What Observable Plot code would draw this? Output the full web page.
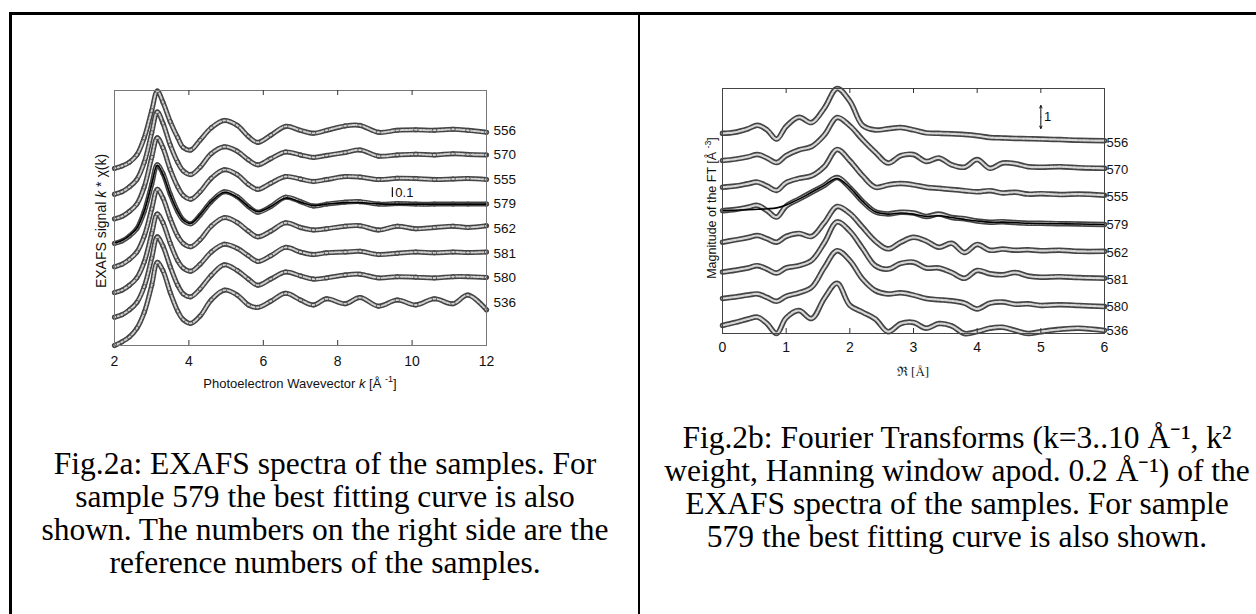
<!DOCTYPE html>
<html><head><meta charset="utf-8">
<script src="https://cdn.jsdelivr.net/npm/d3@7"></script>
<script src="https://cdn.jsdelivr.net/npm/@observablehq/plot@0.6"></script>
<style>
body{margin:0;background:#fff;}
#page{position:relative;width:1256px;height:614px;overflow:hidden;background:#fff;}
.bar{position:absolute;background:#000;}
.pl{position:absolute;top:0;}
.lab{position:absolute;white-space:nowrap;font-family:"Liberation Sans",Arial,sans-serif;color:#111;transform:translate(-50%,-50%);}
.rot{transform:translate(-50%,-50%) rotate(-90deg);}
.lab sup{font-size:0.7em;line-height:0;vertical-align:0.6em;}
.cap{position:absolute;font-family:"Liberation Serif","Times New Roman",Times,serif;font-size:31.5px;line-height:33px;text-align:center;white-space:nowrap;color:#000;transform:translateX(-50%);}
</style>
</head><body>
<div id="page">
  <div class="bar" style="left:9px;top:12px;width:1247px;height:3px;"></div>
  <div class="bar" style="left:9px;top:12px;width:2.5px;height:602px;"></div>
  <div class="bar" style="left:637.5px;top:12px;width:2.5px;height:602px;"></div>
  <div id="pa" class="pl" style="left:0;"></div>
  <div id="pb" class="pl" style="left:640px;"></div>
  <div class="lab rot" style="left:101px;top:221px;font-size:14px;">EXAFS signal <i>k</i> * χ(k)</div>
  <div class="lab" style="left:300px;top:383px;font-size:13px;">Photoelectron Wavevector <i>k</i> [Å <sup>-1</sup>]</div>
  <div class="lab rot" style="left:712px;top:208px;font-size:12.5px;">Magnitude of the FT [Å <sup>-3</sup>]</div>
  <div class="lab" style="left:913px;top:371px;font-size:13px;font-family:'Liberation Serif',serif;">ℜ [Å]</div>
  <div class="cap" style="left:325px;top:447px;">Fig.2a: EXAFS spectra of the samples. For<br>sample 579 the best fitting curve is also<br>shown. The numbers on the right side are the<br>reference numbers of the samples.</div>
  <div class="cap" style="left:957px;top:421px;">Fig.2b: Fourier Transforms (k=3..10 Å⁻¹, k²<br>weight, Hanning window apod. 0.2 Å⁻¹) of the<br>EXAFS spectra of the samples. For sample<br>579 the best fitting curve is also shown.</div>
</div>
<script>
// ---------- Fig.2a : EXAFS k*chi(k) ----------
const sampleNames = ["556","570","555","579","562","581","580","536"];
const exafsOffsets = [7, 6, 5, 4, 3, 2, 1, 0];
const kValues = [2.0,2.2,2.4,2.6,2.8,3.0,3.15,3.3,3.5,3.7,3.85,4.05,4.3,4.6,4.95,5.3,5.6,5.85,6.2,6.6,7.0,7.35,7.7,8.2,8.6,9.1,9.6,10.1,10.6,11.1,11.5,12.0];
const exafs556 = [-1.55,-1.45,-1.3,-1.0,-0.3,0.8,1.6,1.15,0.35,-0.3,-0.7,-0.8,-0.4,0.1,0.4,0.2,-0.25,-0.49,-0.2,0.16,0.0,-0.12,0.0,0.18,0.2,-0.08,0.0,0.02,0.0,0.04,0.0,-0.08];
const exafs570 = [-1.6,-1.5,-1.3,-1.0,-0.3,0.9,1.75,1.3,0.4,-0.3,-0.65,-0.8,-0.5,0.05,0.33,0.15,-0.2,-0.4,-0.15,0.12,0.0,-0.1,-0.02,0.1,0.2,-0.05,0.0,0.03,0.0,0.05,0.02,0.0];
const exafs555 = [-1.6,-1.5,-1.3,-1.0,-0.3,0.9,1.7,1.3,0.4,-0.3,-0.65,-0.8,-0.5,0.05,0.4,0.2,-0.2,-0.4,-0.15,0.12,0.02,-0.08,0.0,0.12,0.1,0.0,0.05,0.04,0.0,0.02,0.04,0.0];
const exafs579 = [-1.6,-1.5,-1.3,-1.0,-0.3,0.8,1.6,1.25,0.4,-0.3,-0.65,-0.8,-0.45,0.1,0.5,0.3,-0.1,-0.33,-0.1,0.28,0.1,-0.08,0.0,0.08,0.1,0.0,0.02,0.0,0.0,0.0,0.0,0.0];
const exafs579fit = [-1.58,-1.48,-1.28,-0.98,-0.28,0.82,1.58,1.22,0.38,-0.3,-0.64,-0.78,-0.44,0.1,0.48,0.28,-0.1,-0.31,-0.1,0.25,0.08,-0.06,0.0,0.06,0.06,0.01,0.0,0.0,0.0,0.0,0.0,0.0];
const exafs562 = [-1.55,-1.45,-1.25,-0.95,-0.3,0.8,1.6,1.25,0.4,-0.3,-0.6,-0.73,-0.45,0.1,0.45,0.25,-0.1,-0.33,-0.1,0.24,0.05,-0.05,0.0,0.1,0.12,-0.05,0.1,0.0,0.05,0.1,0.05,0.12];
const exafs581 = [-1.6,-1.5,-1.3,-1.0,-0.35,0.8,1.6,1.25,0.4,-0.3,-0.6,-0.73,-0.45,0.05,0.37,0.2,-0.1,-0.33,-0.1,0.24,0.05,-0.05,0.02,0.05,0.08,-0.05,0.0,0.05,0.02,0.05,0.03,0.05];
const exafs580 = [-1.6,-1.5,-1.3,-1.0,-0.35,0.8,1.67,1.3,0.45,-0.3,-0.65,-0.77,-0.45,0.1,0.53,0.3,-0.05,-0.3,-0.05,0.24,0.08,-0.05,0.0,0.12,0.15,0.0,0.05,0.03,0.0,0.05,0.05,0.02];
const exafs536 = [-1.75,-1.6,-1.4,-1.05,-0.4,0.7,1.63,1.3,0.4,-0.35,-0.7,-0.85,-0.55,0.1,0.5,0.3,-0.1,-0.2,0.05,0.37,0.1,-0.1,0.15,-0.05,0.2,-0.15,0.1,-0.1,0.15,-0.05,0.3,-0.3];
const exafsSeries = [exafs556, exafs570, exafs555, exafs579, exafs562, exafs581, exafs580, exafs536];
const kTickLabels = [2, 4, 6, 8, 10, 12];
const kInnerTicks = [4, 6, 8, 10];

// ---------- Fig.2b : Fourier transforms ----------
const ftOffsets = [8.3, 7.13, 5.96, 4.74, 3.52, 2.35, 1.17, 0.13];
const rValues = [0,0.2,0.4,0.55,0.7,0.85,1.0,1.2,1.4,1.6,1.8,2.0,2.2,2.4,2.6,2.8,3.0,3.2,3.4,3.6,3.8,4.0,4.2,4.4,4.6,4.8,5.0,5.3,5.6,6.0];
const ft556 = [0.4,0.45,0.6,0.75,0.55,0.15,0.7,1.1,0.87,1.5,2.35,1.8,0.75,0.55,0.6,0.65,0.55,0.42,0.4,0.38,0.35,0.3,0.22,0.2,0.18,0.17,0.15,0.13,0.1,0.08];
const ft570 = [0.39,0.45,0.55,0.65,0.5,0.3,0.6,0.85,1.0,1.5,2.26,1.9,1.3,0.75,0.28,0.6,0.65,0.35,0.5,0.2,0.1,0.43,0.05,0.28,0.25,0.12,0.1,0.12,0.08,0.05];
const ft555 = [0.4,0.45,0.55,0.62,0.45,0.26,0.6,0.78,0.9,1.3,2.04,1.55,0.9,0.4,0.5,0.56,0.5,0.4,0.35,0.3,0.25,0.2,0.25,0.15,0.18,0.1,0.12,0.08,0.1,0.05];
const ft579 = [0.6,0.65,0.75,0.83,0.6,0.32,0.8,1.1,1.4,1.7,2.04,1.6,1.0,0.55,0.46,0.53,0.5,0.35,0.45,0.3,0.25,0.15,0.1,0.12,0.08,0.05,0.05,0.03,0.02,0.0];
const ft579fit = [0.6,0.62,0.64,0.66,0.68,0.72,0.85,1.1,1.4,1.7,2.0,1.6,1.0,0.55,0.45,0.5,0.45,0.35,0.38,0.3,0.22,0.15,0.1,0.1,0.08,0.05,0.04,0.03,0.02,0.0];
const ft562 = [0.45,0.55,0.65,0.74,0.6,0.45,0.7,0.83,0.7,1.3,2.0,1.7,1.1,0.5,0.16,0.45,0.66,0.5,0.23,0.4,0.0,0.35,0.1,0.15,0.1,0.12,0.08,0.1,0.05,0.05];
const ft581 = [0.32,0.4,0.5,0.6,0.45,0.28,0.5,0.6,0.83,1.6,2.5,2.1,1.35,0.6,0.45,0.7,0.75,0.5,0.5,0.3,0.05,0.39,0.25,0.2,0.3,0.15,0.1,0.12,0.08,0.05];
const ft580 = [0.35,0.42,0.5,0.55,0.4,0.23,0.45,0.6,0.84,1.7,2.43,2.0,1.2,0.7,0.55,0.6,0.5,0.35,0.3,0.25,0.15,-0.1,0.15,0.2,0.1,0.12,0.05,0.08,0.05,0.0];
const ft536 = [0.22,0.35,0.5,0.58,0.3,-0.13,0.55,0.87,0.52,1.4,2.05,1.1,0.8,0.5,-0.05,0.3,0.35,0.1,0.3,0.2,-0.13,-0.05,0.1,0.14,0.0,-0.13,-0.05,0.05,0.1,0.0];
const ftSeries = [ft556, ft570, ft555, ft579, ft562, ft581, ft580, ft536];
const rTickLabels = [0, 1, 2, 3, 4, 5, 6];
const rInnerTicks = [1, 2, 3, 4, 5];
const scaleBarUnit = 1;

// ---------- build tables ----------
function buildRows(xs, seriesList, offsets, xKey) {
  const rows = [];
  seriesList.forEach((vals, i) => vals.forEach((v, j) => rows.push({[xKey]: xs[j], y: offsets[i] + v, s: sampleNames[i]})));
  return rows;
}
const exafsRows = buildRows(kValues, exafsSeries, exafsOffsets, "k");
const exafsFitRows = exafs579fit.map((v, j) => ({k: kValues[j], y: exafsOffsets[3] + v}));
const ftRows = buildRows(rValues, ftSeries, ftOffsets, "r");
const ftFitRows = ft579fit.map((v, j) => ({r: rValues[j], y: ftOffsets[3] + v}));

const font = "'Liberation Sans', Arial, sans-serif";
const narrow = "'Liberation Sans Narrow', 'Liberation Sans', sans-serif";

// ---------- Fig.2a plot ----------
const hA = 400, mtA = 90, mbA = 55;
const frameHA = hA - mtA - mbA;
const plotA = Plot.plot({
  width: 640, height: hA,
  marginLeft: 114, marginRight: 154, marginTop: mtA, marginBottom: mbA,
  x: {domain: [2, 12]},
  y: {domain: [-1.75, 8.62], axis: null},
  style: {fontFamily: font, background: "transparent", color: "#111"},
  marks: [
    Plot.line(exafsRows, {x: "k", y: "y", z: "s", stroke: "#444", strokeWidth: 5, curve: "catmull-rom"}),
    Plot.line(exafsRows, {x: "k", y: "y", z: "s", stroke: "#cfcfcf", strokeWidth: 2, strokeDasharray: "2,1.6", curve: "catmull-rom"}),
    Plot.dot(exafsRows, {x: "k", y: "y", r: 2.2, stroke: "#444", strokeWidth: 0.8, fill: "none"}),
    Plot.line(exafsFitRows, {x: "k", y: "y", stroke: "#000", strokeWidth: 1.6, curve: "catmull-rom"}),
    Plot.frame({stroke: "#777", strokeWidth: 1}),
    Plot.tickX(kInnerTicks, {x: d => d, insetTop: frameHA - 5, stroke: "#333"}),
    Plot.tickX(kInnerTicks, {x: d => d, insetBottom: frameHA - 5, stroke: "#333"}),
    Plot.axisX(kTickLabels, {anchor: "bottom", tickSize: 0, tickPadding: 11, fontSize: 14, label: null, tickFormat: d => String(d)}),
    Plot.text(sampleNames, {x: () => 12, y: (d, i) => exafsOffsets[i], text: d => d, dx: 7, textAnchor: "start", fontSize: 13.5, fill: "#111"}),
    Plot.ruleX([9.47], {y1: 4.27, y2: 4.67, stroke: "#111", strokeWidth: 1.2}),
    Plot.text(["0.1"], {x: () => 9.55, y: () => 4.47, text: d => d, textAnchor: "start", fontSize: 13, fill: "#111"})
  ]
});
document.getElementById("pa").appendChild(plotA);

// ---------- Fig.2b plot ----------
const hB = 400, mtB = 88, mbB = 67;
const frameHB = hB - mtB - mbB;
const plotB = Plot.plot({
  width: 616, height: hB,
  marginLeft: 82, marginRight: 152, marginTop: mtB, marginBottom: mbB,
  x: {domain: [0, 6]},
  y: {domain: [0, 10.65], axis: null},
  style: {fontFamily: font, background: "transparent", color: "#111"},
  marks: [
    Plot.line(ftRows, {x: "r", y: "y", z: "s", stroke: "#444", strokeWidth: 5.5, curve: "catmull-rom"}),
    Plot.line(ftRows, {x: "r", y: "y", z: "s", stroke: "#d6d6d6", strokeWidth: 2.2, strokeDasharray: "2.4,1.4", curve: "catmull-rom"}),
    Plot.line(ftFitRows, {x: "r", y: "y", stroke: "#000", strokeWidth: 1.6, curve: "catmull-rom"}),
    Plot.frame({stroke: "#444", strokeWidth: 1}),
    Plot.tickX(rInnerTicks, {x: d => d, insetTop: frameHB - 5, stroke: "#333"}),
    Plot.tickX(rInnerTicks, {x: d => d, insetBottom: frameHB - 5, stroke: "#333"}),
    Plot.axisX(rTickLabels, {anchor: "bottom", tickSize: 0, tickPadding: 9, fontSize: 14, label: null, fontFamily: narrow, tickFormat: d => String(d)}),
    Plot.text(sampleNames, {x: () => 6, y: (d, i) => ftOffsets[i], text: d => d, dx: 2, textAnchor: "start", fontSize: 13, fill: "#111", fontFamily: narrow}),
    Plot.arrow([{a: 8.91 + scaleBarUnit / 2, b: 8.91 + scaleBarUnit}, {a: 8.91 + scaleBarUnit / 2, b: 8.91}], {x1: () => 5.0, x2: () => 5.0, y1: "a", y2: "b", stroke: "#111", strokeWidth: 1, headLength: 4, headAngle: 50}),
    Plot.text([String(scaleBarUnit)], {x: () => 5.05, y: () => 9.41, text: d => d, textAnchor: "start", fontSize: 13, fill: "#111", fontFamily: narrow})
  ]
});
document.getElementById("pb").appendChild(plotB);
</script>
</body></html>
